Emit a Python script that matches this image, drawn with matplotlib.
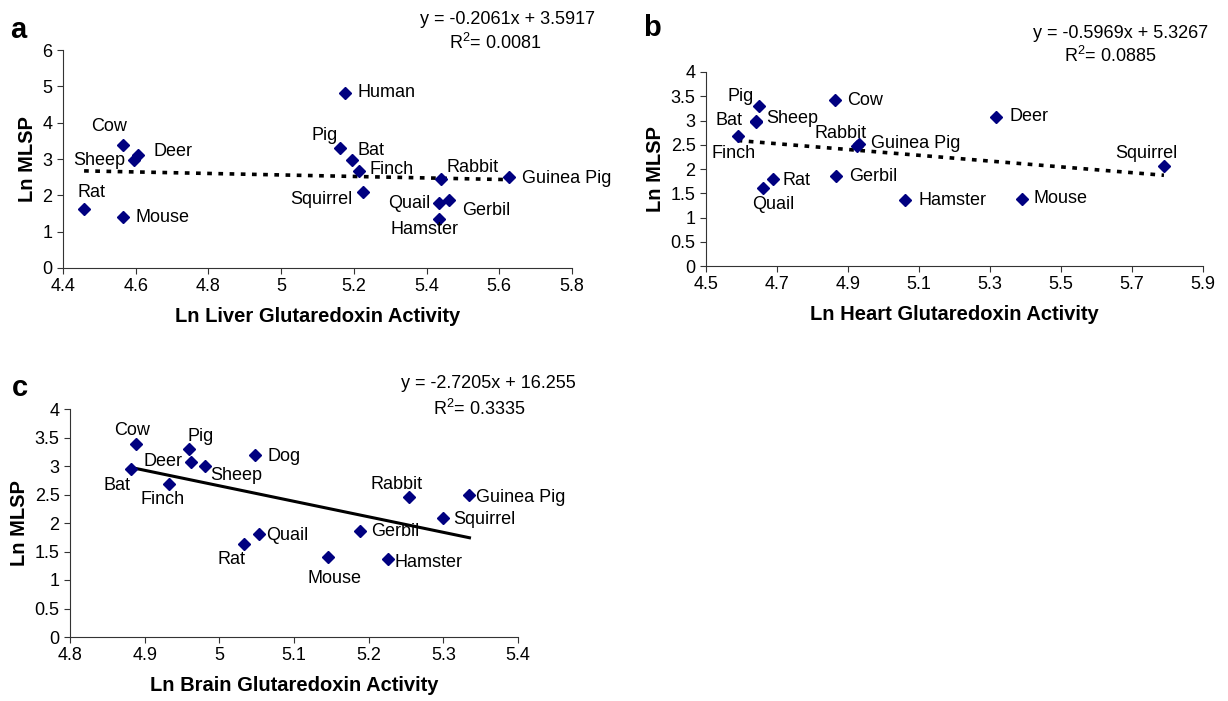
import matplotlib
matplotlib.use("Agg")
import matplotlib.pyplot as plt
import numpy as np
from matplotlib.ticker import FuncFormatter

plt.rcParams['font.family'] = ['Liberation Sans', 'DejaVu Sans']
plt.rcParams['mathtext.fontset'] = 'custom'
plt.rcParams['mathtext.rm'] = 'Liberation Sans'

# panel a : liver
liver_names = ["Rat", "Mouse", "Cow", "Sheep", "Deer", "Human", "Pig", "Bat", "Finch",
               "Squirrel", "Rabbit", "Guinea Pig", "Quail", "Gerbil", "Hamster"]
liver_x = [4.458, 4.564, 4.564, 4.595, 4.606, 5.175, 5.162, 5.194, 5.215,
           5.225, 5.441, 5.628, 5.435, 5.462, 5.435]
liver_y = [1.62, 1.40, 3.39, 2.96, 3.10, 4.83, 3.31, 2.97, 2.68,
           2.08, 2.45, 2.50, 1.79, 1.87, 1.36]
liver_fit = (-0.2061, 3.5917)

# panel b : heart
heart_names = ["Pig", "Bat", "Sheep", "Finch", "Cow", "Rabbit", "Guinea Pig", "Deer",
               "Squirrel", "Rat", "Quail", "Gerbil", "Hamster", "Mouse"]
heart_x = [4.649, 4.640, 4.642, 4.589, 4.862, 4.924, 4.930, 5.318,
           5.790, 4.688, 4.661, 4.867, 5.061, 5.390]
heart_y = [3.30, 3.00, 2.96, 2.69, 3.42, 2.48, 2.51, 3.08,
           2.07, 1.79, 1.61, 1.85, 1.36, 1.39]
heart_fit = (-0.5969, 5.3267)

# panel c : brain
brain_names = ["Cow", "Bat", "Pig", "Deer", "Sheep", "Finch", "Dog", "Rabbit",
               "Guinea Pig", "Squirrel", "Gerbil", "Quail", "Rat", "Mouse", "Hamster"]
brain_x = [4.888, 4.882, 4.960, 4.962, 4.981, 4.932, 5.048, 5.254,
           5.335, 5.299, 5.189, 5.053, 5.033, 5.145, 5.226]
brain_y = [3.39, 2.94, 3.30, 3.07, 3.00, 2.69, 3.19, 2.46,
           2.49, 2.08, 1.86, 1.80, 1.63, 1.40, 1.37]
brain_fit = (-2.7205, 16.255)

# label offsets in pixels (dx, dy, ha)
liver_off = [(7, 17, 'center'), (13, 0, 'left'), (-14, 18, 'center'), (-9, 0, 'right'),
             (16, 4, 'left'), (13, 0, 'left'), (-2, 12, 'right'), (6, 10, 'left'),
             (10, 1, 'left'), (-10, -7, 'right'), (5, 11, 'left'), (13, -1, 'left'),
             (-9, -1, 'right'), (13, -10, 'left'), (-15, -11, 'center')]
heart_off = [(-5, 9, 'right'), (-13, 0, 'right'), (10, 4, 'left'), (-4, -18, 'center'),
             (13, 0, 'left'), (-16, 12, 'center'), (12, 1, 'left'), (13, 0, 'left'),
             (-18, 12, 'center'), (10, -1, 'left'), (10, -17, 'center'), (13, 0, 'left'),
             (13, 0, 'left'), (12, 0, 'left')]
brain_off = [(-4, 13, 'center'), (-14, -16, 'center'), (11, 12, 'center'), (-8, 1, 'right'),
             (5, -9, 'left'), (-6, -16, 'center'), (12, -1, 'left'), (-12, 12, 'center'),
             (7, -2, 'left'), (11, -1, 'left'), (11, -1, 'left'), (7, -1, 'left'),
             (-12, -15, 'center'), (7, -21, 'center'), (6, -4, 'left')]

W, H = 1228, 701
fig = plt.figure(figsize=(W / 100, H / 100), dpi=100)


def box(x0, x1, ytop, ybot):
    return [x0 / W, 1 - ybot / H, (x1 - x0) / W, (ybot - ytop) / H]


def panel(rect, names, xs, ys, offs, fit, style, xlim, xstep, ylim, ystep, xlabel):
    ax = fig.add_axes(rect)
    ax.plot(xs, ys, 'D', color='#000080', markersize=6.5, zorder=3)
    for n, x, y, (dx, dy, ha) in zip(names, xs, ys, offs):
        ax.annotate(n, (x, y), xytext=(dx, dy), textcoords='offset pixels',
                    ha=ha, va='center', fontsize=13)
    m, b = fit
    x0, x1 = min(xs), max(xs)
    ax.plot([x0, x1], [m * x0 + b, m * x1 + b], color='black',
            lw=2.2 if style == 'solid' else 2.6,
            linestyle='-' if style == 'solid' else (0, (1.3, 1.8)), zorder=2)
    ax.set_xlim(*xlim)
    ax.set_ylim(*ylim)
    ax.set_xticks(np.arange(xlim[0], xlim[1] + xstep / 2, xstep))
    ax.set_yticks(np.arange(ylim[0], ylim[1] + ystep / 2, ystep))
    fmt = FuncFormatter(lambda v, p: f"{round(v, 2):g}")
    ax.xaxis.set_major_formatter(fmt)
    ax.yaxis.set_major_formatter(fmt)
    for s in ['top', 'right']:
        ax.spines[s].set_visible(False)
    for s in ['left', 'bottom']:
        ax.spines[s].set_color('#333333')
    ax.tick_params(direction='out', length=4, labelsize=13, colors='#333333',
                   labelcolor='black')
    ax.set_xlabel(xlabel, fontsize=14.5, fontweight='bold', labelpad=8)
    ax.set_ylabel("Ln MLSP", fontsize=14.5, fontweight='bold', labelpad=4)
    return ax


panel(box(63, 572, 50, 268), liver_names, liver_x, liver_y, liver_off, liver_fit, 'dot',
      (4.4, 5.8), 0.2, (0, 6), 1, "Ln Liver Glutaredoxin Activity")
panel(box(706, 1203, 72, 266), heart_names, heart_x, heart_y, heart_off, heart_fit, 'dot',
      (4.5, 5.9), 0.2, (0, 4), 0.5, "Ln Heart Glutaredoxin Activity")
panel(box(70, 518, 409, 637), brain_names, brain_x, brain_y, brain_off, brain_fit, 'solid',
      (4.8, 5.4), 0.1, (0, 4), 0.5, "Ln Brain Glutaredoxin Activity")


def ftext(x, y, s, **kw):
    fig.text(x / W, 1 - y / H, s, ha='center', va='center', **kw)


ftext(18, 30, "a", fontsize=21, fontweight='bold')
ftext(652, 28, "b", fontsize=21, fontweight='bold')
ftext(20, 388, "c", fontsize=21, fontweight='bold')

ftext(507, 20, "y = -0.2061x + 3.5917", fontsize=13)
ftext(495, 43, "R$^{2}$= 0.0081", fontsize=13)
ftext(1121, 33, "y = -0.5969x + 5.3267", fontsize=13)
ftext(1110, 56, "R$^{2}$= 0.0885", fontsize=13)
ftext(488, 383, "y = -2.7205x + 16.255", fontsize=13)
ftext(479, 409, "R$^{2}$= 0.3335", fontsize=13)

fig.savefig("out.png", dpi=100)
